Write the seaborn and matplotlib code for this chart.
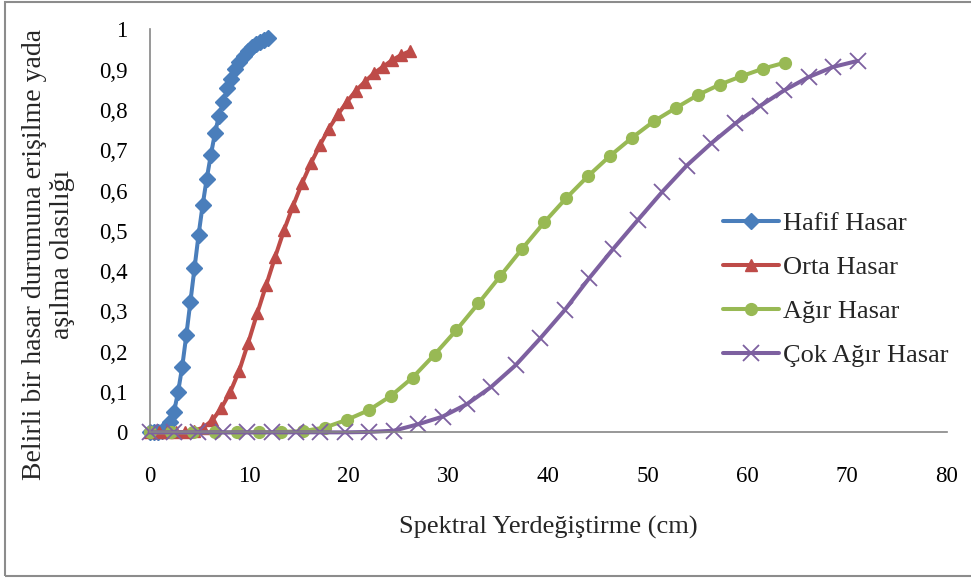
import matplotlib
matplotlib.use("Agg")
import matplotlib.pyplot as plt
from matplotlib.patches import Rectangle
import seaborn as sns

# Values (30 points per curve)
hafif_x = [0.0, 0.41, 0.82, 1.23, 1.64, 2.05, 2.46, 2.87, 3.28, 3.69, 4.1, 4.51, 4.92, 5.33, 5.74,
           6.15, 6.56, 6.97, 7.38, 7.79, 8.2, 8.61, 9.02, 9.43, 9.84, 10.25, 10.66, 11.07, 11.48, 11.89]
hafif_y = [0.0, 0.0, 0.0, 0.003, 0.01, 0.025, 0.051, 0.101, 0.163, 0.241, 0.324, 0.407, 0.49, 0.564, 0.63,
           0.688, 0.742, 0.786, 0.82, 0.854, 0.878, 0.903, 0.92, 0.935, 0.947, 0.956, 0.963, 0.969, 0.975, 0.979]

orta_x = [0.0, 0.9, 1.8, 2.7, 3.6, 4.5, 5.4, 6.3, 7.2, 8.1, 9.0, 9.9, 10.8, 11.7, 12.6,
          13.5, 14.4, 15.3, 16.2, 17.1, 18.0, 18.9, 19.8, 20.7, 21.6, 22.5, 23.4, 24.3, 25.2, 26.1]
orta_y = [0.0, 0.0, 0.0, 0.0, 0.001, 0.004, 0.012, 0.03, 0.06, 0.1, 0.153, 0.222, 0.295, 0.365, 0.435,
          0.502, 0.562, 0.618, 0.668, 0.713, 0.754, 0.789, 0.82, 0.848, 0.87, 0.891, 0.907, 0.923, 0.936, 0.946]

agir_x = [0.0, 2.2, 4.4, 6.6, 8.8, 11.0, 13.2, 15.4, 17.6, 19.8, 22.0, 24.2, 26.4, 28.6, 30.8,
          33.0, 35.2, 37.4, 39.6, 41.8, 44.0, 46.2, 48.4, 50.6, 52.8, 55.0, 57.2, 59.4, 61.6, 63.8]
agir_y = [0.0, 0.0, 0.0, 0.0, 0.0, 0.0, 0.001, 0.003, 0.012, 0.031, 0.055, 0.09, 0.136, 0.193, 0.254,
          0.32, 0.388, 0.456, 0.521, 0.581, 0.636, 0.686, 0.731, 0.772, 0.805, 0.837, 0.863, 0.884, 0.903, 0.918]

cok_x = [0.0, 2.45, 4.9, 7.35, 9.8, 12.25, 14.7, 17.15, 19.6, 22.05, 24.5, 26.95, 29.4, 31.85, 34.3,
         36.75, 39.2, 41.65, 44.1, 46.55, 49.0, 51.45, 53.9, 56.35, 58.8, 61.25, 63.7, 66.15, 68.6, 71.05]
cok_y = [0.0, 0.0, 0.0, 0.0, 0.0, 0.0, 0.0, 0.0, 0.0, 0.001, 0.004, 0.02, 0.039, 0.07, 0.113,
         0.167, 0.233, 0.303, 0.382, 0.456, 0.527, 0.597, 0.662, 0.717, 0.767, 0.81, 0.849, 0.882, 0.907, 0.922]

series_names = ["Hafif Hasar", "Orta Hasar", "Ağır Hasar", "Çok Ağır Hasar"]
ytick_vals = [0, 0.1, 0.2, 0.3, 0.4, 0.5, 0.6, 0.7, 0.8, 0.9, 1.0]
ytick_labels = ["0", "0,1", "0,2", "0,3", "0,4", "0,5", "0,6", "0,7", "0,8", "0,9", "1"]
xtick_vals = [0, 10, 20, 30, 40, 50, 60, 70, 80]

sns.set_style("white")
plt.rcParams["font.family"] = ["Liberation Serif", "DejaVu Serif"]

fig = plt.figure(figsize=(9.71, 5.78), dpi=100)
ax = fig.add_axes([0.154, 0.252, 0.821, 0.697])

styles = [
    (hafif_x, hafif_y, "#4A7EBB", "D", 8.5, 1.0),
    (orta_x, orta_y, "#BE4B48", "^", 8.5, 1.0),
    (agir_x, agir_y, "#98B954", "o", 8.5, 1.0),
    (cok_x, cok_y, "#7D60A0", "x", 12, 1.3),
]
for (xs, ys, col, mk, ms, mew), name in zip(styles, series_names):
    sns.lineplot(x=xs, y=ys, ax=ax, color=col, lw=2.9, marker=mk, markersize=ms,
                 markeredgecolor=col, markeredgewidth=mew, label=name, sort=False,
                 clip_on=False)

ax.set_xlim(0, 80)
ax.set_ylim(0, 1)
ax.set_xticks(xtick_vals)
ax.set_xticklabels([str(v) for v in xtick_vals])
ax.set_yticks(ytick_vals)
ax.set_yticklabels(ytick_labels)

for side in ["top", "right"]:
    ax.spines[side].set_visible(False)
for side in ["left", "bottom"]:
    ax.spines[side].set_color("#868686")
    ax.spines[side].set_linewidth(1.2)

ax.tick_params(axis="both", direction="out", length=5, width=1.2, color="#868686",
               labelsize=16.5, labelcolor="black")
ax.tick_params(axis="x", pad=19)
ax.tick_params(axis="y", pad=11)

ax.set_xlabel("Spektral Yerdeğiştirme (cm)", fontsize=19, labelpad=21)
fig.text(0.050, 0.560, "Belirli bir hasar durumuna erişilme yada\naşılma olasılığı",
         rotation=90, ha="center", va="center", multialignment="center",
         fontsize=20, linespacing=1.12)

ax.legend(loc="upper left", bbox_to_anchor=(0.745, 0.634), bbox_transform=fig.transFigure,
          frameon=False, fontsize=19, handlelength=2.1, handletextpad=0.15,
          labelspacing=0.78, borderpad=0, borderaxespad=0, numpoints=1)

fig.patches.append(Rectangle((0.005, 0.004), 1.2, 0.993, transform=fig.transFigure,
                             fill=False, edgecolor="#8c8c8c", lw=1.5))

fig.savefig("out.png", dpi=100)
